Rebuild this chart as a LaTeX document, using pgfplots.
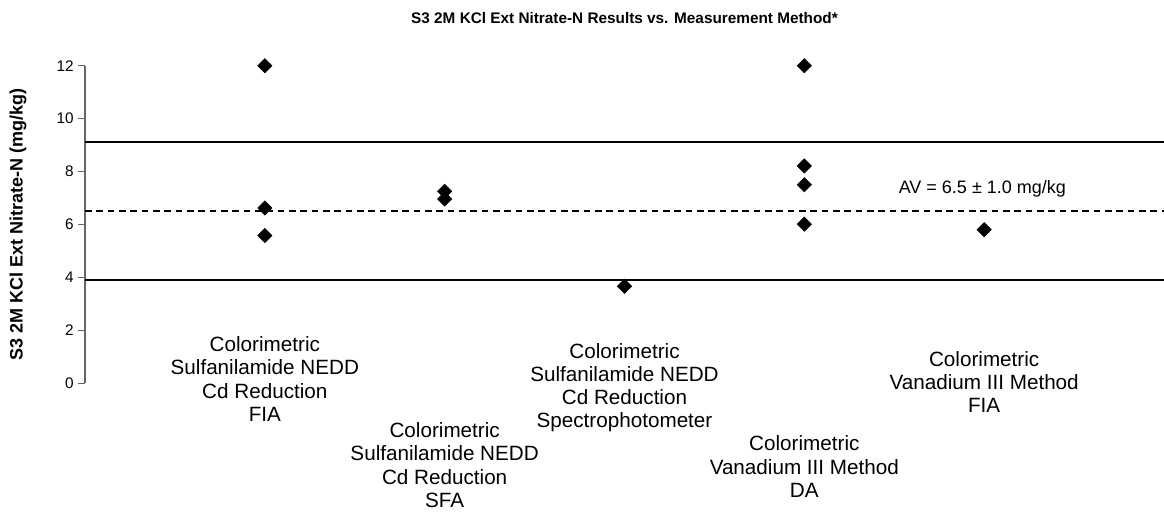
\documentclass[border=0pt]{standalone}
\usepackage{fontspec}
\setmainfont{Liberation Sans}
\usepackage{pgfplots}
\pgfplotsset{compat=1.18}

\begin{document}
\begin{tikzpicture}
% frame of the whole picture (1 px = 0.75pt)
\useasboundingbox (-63.75pt,-97.5pt) rectangle (809.25pt,287.3pt);
\begin{axis}[
  scale only axis, width=809.25pt, height=238pt,
  xmin=0, xmax=6, ymin=0, ymax=12,
  axis x line=none, axis y line*=left,
  ytick={0,2,...,12},
  y axis line style={gray!80!black, line width=0.8pt},
  ytick style={gray!80!black, line width=0.8pt},
  tick align=outside, major tick length=5pt,
  yticklabel style={font=\fontsize{11.5}{12}\selectfont,
    /pgf/number format/assume math mode=true},
  clip=false,
]
% limits and assigned value
\addplot[black, line width=1.4pt] coordinates {(0,9.1) (6,9.1)};
\addplot[black, line width=1.4pt] coordinates {(0,3.9) (6,3.9)};
\addplot[black, line width=1.1pt, dash pattern=on 5pt off 3.5pt] coordinates {(0,6.5) (6,6.5)};

% lab results
\addplot[only marks, mark=square*, mark size=3.8pt, mark options={rotate=45, fill=black}]
  coordinates {
    (1,12) (1,6.62) (1,5.58)
    (2,7.25) (2,6.96)
    (3,3.66)
    (4,12) (4,8.21) (4,7.5) (4,6.01)
    (5,5.8)
  };

\node[font=\fontsize{13.5}{16}\selectfont] at (axis cs:4.99,7.34) {AV = 6.5 ± 1.0 mg/kg};

\begin{scope}[every node/.style={align=center, font=\fontsize{15.5}{17.4}\selectfont}]
\node at (axis cs:1,0.15) {Colorimetric\\Sulfanilamide NEDD\\Cd Reduction\\FIA};
\node at (axis cs:2,-3.10) {Colorimetric\\Sulfanilamide NEDD\\Cd Reduction\\SFA};
\node at (axis cs:3,-0.17) {Colorimetric\\Sulfanilamide NEDD\\Cd Reduction\\Spectrophotometer};
\node at (axis cs:4,-3.16) {Colorimetric\\Vanadium III Method\\DA};
\node at (axis cs:5,0.04) {Colorimetric\\Vanadium III Method\\FIA};
\end{scope}

\node[font=\bfseries\fontsize{11.5}{14}\selectfont] at ([yshift=35.8pt]rel axis cs:0.5,1)
  {S3 2M KCl Ext Nitrate-N Results vs. Measurement Method*};
\node[font=\bfseries\fontsize{13.5}{16}\selectfont, rotate=90] at ([xshift=-50.25pt]rel axis cs:0,0.5)
  {S3 2M KCl Ext Nitrate-N (mg/kg)};
\end{axis}
\end{tikzpicture}
\end{document}
